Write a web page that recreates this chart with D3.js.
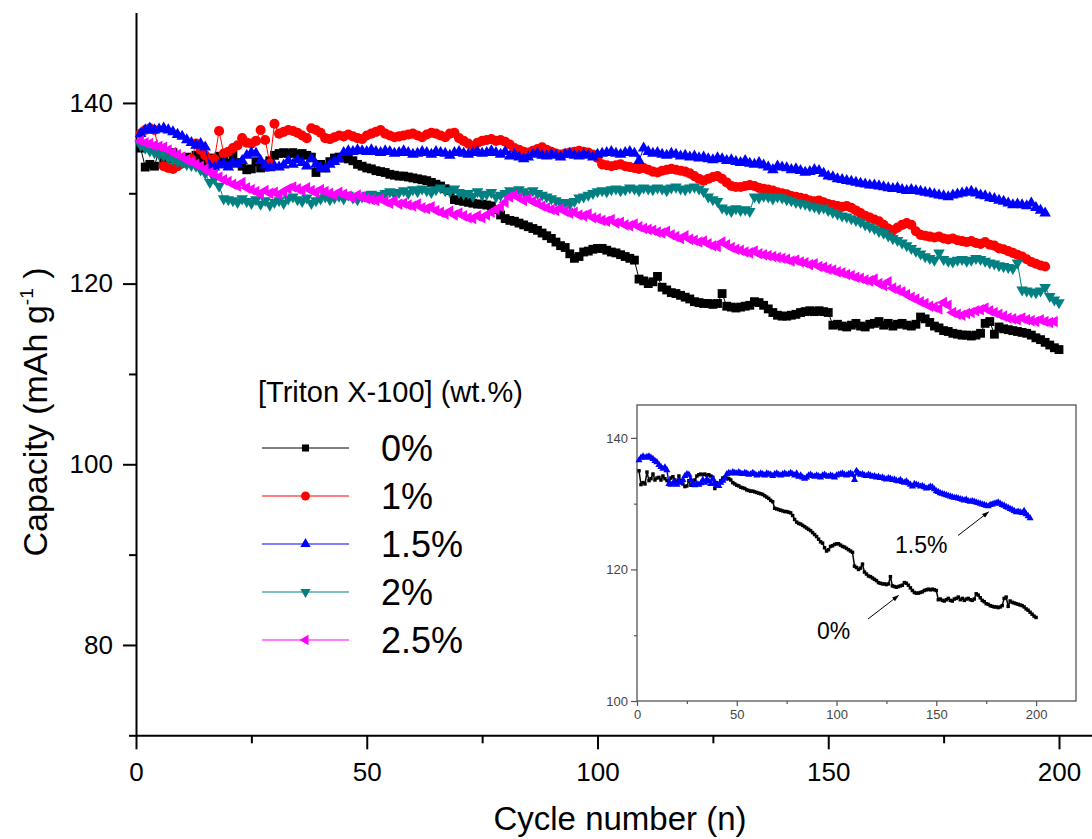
<!DOCTYPE html>
<html><head><meta charset="utf-8">
<script src="https://cdn.jsdelivr.net/npm/d3@7"></script>
<style>
html,body{margin:0;padding:0;background:#fff;}
svg{display:block;font-family:"Liberation Sans",Arial,sans-serif;}
</style></head><body>
<svg id="c" width="1092" height="839"></svg>
<script>
// ---- Data (capacity in mAh g-1, one value per cycle starting at cycle 1) ----
const cap0 = [
135.0,132.9,133.2,133.0,134.8,133.5,133.8,134.5,133.6,133.9,
134.0,133.6,134.2,133.8,133.5,133.2,133.9,134.1,133.6,133.3,
134.2,133.4,133.0,132.6,132.7,133.5,132.8,132.9,133.6,134.2,
134.4,134.5,134.4,134.5,134.3,134.4,134.2,134.0,132.3,133.2,
132.8,133.5,133.9,134.0,133.9,133.8,133.6,133.2,133.0,132.8,
132.7,132.5,132.4,132.3,132.1,132.0,131.9,131.9,131.8,131.7,
131.6,131.5,131.4,131.2,131.0,130.8,130.5,130.3,129.3,129.2,
129.1,129.0,128.9,128.8,128.8,128.7,128.6,128.2,127.6,127.2,
127.0,126.9,126.7,126.5,126.3,126.1,125.9,125.6,125.3,125.0,
124.6,124.2,124.0,123.3,122.8,123.0,123.5,123.6,123.8,123.9,
123.9,123.7,123.5,123.4,123.2,123.0,122.8,122.6,120.5,120.3,
120.0,120.2,120.8,119.6,119.3,119.0,118.9,118.7,118.5,118.3,
118.0,117.9,117.8,117.8,117.7,117.8,118.9,117.5,117.4,117.3,
117.4,117.5,117.6,118.0,117.9,117.6,117.2,116.8,116.5,116.4,
116.4,116.5,116.6,116.8,116.9,117.0,116.9,117.0,116.9,116.8,
115.4,115.5,115.3,115.2,115.4,115.6,115.3,115.2,115.5,115.6,
115.8,115.4,115.6,115.3,115.5,115.6,115.4,115.3,115.5,116.3,
116.1,115.7,115.3,115.1,114.8,114.7,114.5,114.4,114.3,114.3,
114.2,114.3,114.5,115.6,115.8,114.4,115.2,115.0,114.9,114.8,
114.7,114.6,114.5,114.3,114.0,113.8,113.5,113.2,112.9,112.7];

const cap1 = [
136.6,137.0,137.2,137.0,134.5,133.0,132.8,132.7,133.0,133.3,
133.5,133.8,135.5,134.8,134.2,133.7,133.8,136.9,134.4,134.6,
135.0,135.3,136.1,135.6,135.5,135.8,137.0,135.9,133.3,137.7,
136.6,136.8,137.0,136.9,136.7,136.4,136.1,137.2,137.0,136.7,
136.1,136.0,136.2,136.4,136.3,136.5,136.3,136.1,136.0,136.4,
136.6,136.8,137.0,136.6,136.4,136.2,136.3,136.4,136.5,136.6,
136.4,136.2,136.5,136.7,136.6,136.4,136.2,136.6,136.7,136.1,
135.8,135.5,135.2,135.6,135.8,135.9,136.0,135.8,135.9,135.7,
135.4,135.0,134.8,134.6,134.5,134.7,134.9,135.1,134.8,134.6,
134.4,134.3,134.4,134.5,134.6,134.7,134.6,134.5,134.3,133.9,
133.2,133.1,133.0,133.1,133.2,133.0,132.9,132.8,132.7,132.8,
132.6,132.4,132.3,132.5,132.6,132.7,132.6,132.5,132.4,132.2,
131.9,131.6,131.4,131.6,131.8,131.9,131.6,131.2,130.8,130.7,
130.7,130.8,130.9,130.8,130.6,130.5,130.4,130.3,130.1,130.0,
129.9,129.7,129.6,129.5,129.4,129.2,129.1,129.2,129.0,128.8,
128.7,128.6,128.5,128.6,128.4,128.1,127.8,127.5,127.3,127.1,
126.9,126.5,126.1,125.9,126.2,126.5,126.7,126.5,125.8,125.4,
125.3,125.2,125.1,125.2,125.0,124.9,125.0,124.8,124.7,124.6,
124.7,124.5,124.4,124.6,124.3,124.2,123.9,123.8,123.6,123.4,
123.2,123.0,122.7,122.4,122.2,122.0,121.9];

const cap15 = [
136.6,137.0,137.2,137.0,137.1,137.2,137.0,136.8,136.5,136.3,
135.9,135.6,135.3,135.5,135.1,133.0,132.9,133.1,133.3,132.9,
133.4,133.2,133.6,134.2,134.5,134.4,133.6,133.1,132.8,133.0,
132.9,133.1,133.6,133.2,133.7,133.4,133.0,133.8,133.2,132.8,
132.7,133.2,133.5,133.8,134.5,134.7,134.6,134.8,134.7,134.6,
134.8,134.6,134.5,134.7,134.6,134.4,134.5,134.7,134.5,134.3,
134.4,134.6,134.5,134.3,134.6,134.5,134.4,134.2,134.5,134.6,
134.4,134.3,134.5,134.6,134.4,134.5,134.7,134.5,134.3,134.6,
134.1,134.3,134.0,133.8,134.0,134.3,134.4,134.2,134.1,134.3,
134.2,134.0,134.3,134.4,134.2,134.1,134.3,134.2,134.0,134.3,
134.4,134.5,134.6,134.4,134.3,134.5,134.6,134.4,133.6,135.0,
134.6,134.4,134.5,134.3,134.2,134.4,134.3,134.1,134.2,134.0,
134.1,133.9,134.0,133.8,133.7,133.9,133.8,133.6,133.7,133.5,
133.4,133.6,133.3,133.2,133.4,133.1,132.9,132.6,133.0,132.9,
132.8,132.6,132.7,132.5,132.3,132.4,132.6,132.5,132.2,131.9,
131.8,131.6,131.5,131.4,131.3,131.2,131.1,131.0,130.9,130.9,
130.8,130.7,130.6,130.5,130.6,130.4,130.3,130.4,130.3,130.2,
130.1,130.0,129.9,129.8,129.7,129.6,129.8,129.9,130.0,130.1,
130.2,130.0,129.8,129.7,129.5,129.4,129.2,129.1,128.9,128.7,
128.8,128.7,128.6,128.9,128.4,128.1,127.8];

const cap2 = [
135.3,135.0,134.7,134.5,134.3,134.2,133.9,133.7,133.5,133.4,
133.2,133.1,133.0,132.6,132.2,131.2,131.6,130.8,129.4,129.3,
129.2,129.0,129.4,129.1,128.9,129.3,128.8,129.2,128.7,129.0,
129.2,128.9,129.4,129.6,129.3,129.1,129.5,128.9,129.2,129.4,
129.6,129.3,129.5,129.7,129.4,129.8,129.5,129.3,129.6,129.8,
129.9,129.6,129.8,130.0,130.2,129.9,130.1,130.3,130.0,130.4,
130.2,130.5,130.3,130.1,130.4,130.6,130.3,130.2,130.5,130.1,
129.9,130.0,129.7,130.2,129.8,129.9,130.1,129.6,129.8,130.0,
130.3,130.1,130.4,130.2,129.9,130.3,130.0,129.8,129.6,129.4,
129.2,128.9,129.0,128.8,129.1,129.5,129.6,129.8,130.0,130.2,
130.3,130.2,130.4,130.5,130.3,130.4,130.6,130.5,130.3,130.6,
130.5,130.4,130.6,130.5,130.3,130.6,130.7,130.5,130.4,130.6,
130.7,130.5,130.2,129.6,129.3,129.1,128.4,128.2,128.0,128.3,
128.1,128.2,128.0,129.6,129.5,129.7,129.6,129.4,129.6,129.5,
129.3,129.2,129.0,128.9,128.8,128.6,128.5,128.3,128.4,128.1,
127.9,127.7,127.5,127.4,127.2,127.0,126.8,126.5,126.3,126.1,
125.8,125.6,125.3,125.0,124.8,124.5,124.2,123.9,123.6,123.3,
123.0,122.8,122.6,123.4,122.7,122.5,122.4,122.6,122.7,122.5,
122.6,122.8,122.7,122.5,122.3,122.2,122.0,121.9,121.8,121.7,
122.3,119.3,119.2,119.1,119.0,119.2,119.6,118.6,118.2,117.9];

const cap25 = [
135.8,135.6,135.5,135.3,135.2,135.1,134.8,134.5,134.3,134.0,
133.7,133.5,133.2,133.0,132.7,132.3,132.1,131.8,131.5,131.3,
131.0,130.8,131.2,130.6,130.4,130.2,129.9,130.3,130.0,130.1,
129.9,130.2,130.5,130.7,130.5,130.3,130.6,130.3,130.1,130.4,
130.2,130.0,129.8,130.1,129.9,129.7,129.5,129.8,129.6,129.4,
129.3,129.2,129.4,129.1,128.9,129.2,128.8,128.9,128.7,128.6,
128.8,128.4,128.3,128.5,128.1,127.9,127.7,128.0,127.6,127.8,
127.5,127.3,127.2,127.5,127.3,127.6,127.9,128.2,128.5,129.0,
129.6,129.8,129.5,129.2,129.4,129.1,128.9,128.6,128.4,128.2,
128.1,128.3,128.0,127.8,127.9,127.6,127.5,127.7,127.3,127.2,
127.0,126.9,127.1,126.7,126.8,126.5,126.4,126.6,126.3,126.1,
126.0,125.9,125.7,125.6,125.8,125.4,125.2,125.0,125.3,124.9,
124.8,124.6,124.7,124.4,124.2,124.1,124.6,124.3,124.0,123.8,
123.7,123.5,123.4,123.6,123.3,123.2,123.1,123.0,122.9,122.8,
122.7,122.5,122.6,122.4,122.3,122.1,122.2,121.9,121.8,121.6,
121.5,121.3,121.2,121.0,120.9,120.7,120.6,120.4,120.3,120.5,
120.0,119.8,120.2,119.5,119.3,119.1,118.8,118.5,118.3,118.0,
117.8,117.5,117.4,117.2,117.9,117.6,116.8,116.6,116.5,116.7,
116.8,117.0,117.1,117.3,117.0,116.8,116.6,116.4,116.2,116.1,
116.0,116.2,116.0,115.9,115.8,116.0,115.8,115.7,115.8];

const seriesNames  = ["0%", "1%", "1.5%", "2%", "2.5%"];
const seriesColors = ["#000000", "#ff0000", "#0000ff", "#008080", "#ff00ff"];
const xTickValues  = [0, 50, 100, 150, 200];
const xMinorValues = [25, 75, 125, 175];
const yTickValues  = [80, 100, 120, 140];
const yMinorValues = [70, 90, 110, 130];
const insetXTicks  = [0, 50, 100, 150, 200];
const insetXMinor  = [25, 75, 125, 175];
const insetYTicks  = [100, 120, 140];
const insetYMinor  = [110, 130];
const legendTitle  = "[Triton X-100] (wt.%)";
const xTitle       = "Cycle number (n)";
const insetLabels  = ["1.5%", "0%"];

const allSeries = [cap0, cap1, cap15, cap2, cap25];

// ---- Chart ----
const svg = d3.select("#c");
const x = d3.scaleLinear().domain([0, 210]).range([136, 136 + 210 * 4.615]);
const y = d3.scaleLinear().domain([70, 150]).range([735.3, 12.6]);

const symTypes = [d3.symbolSquare, d3.symbolCircle, d3.symbolTriangle, d3.symbolTriangle, d3.symbolTriangle];
const symRot   = [0, 0, 0, 180, -90];
const symSize  = [78, 80, 58, 58, 58];

function styleAxis(g, w) {
  g.selectAll("path.domain").attr("stroke", "#000").attr("stroke-width", w);
  g.selectAll(".tick line").attr("stroke", "#000").attr("stroke-width", w);
}
const gxMinor = svg.append("g").attr("transform", `translate(0,${y(70)})`)
  .call(d3.axisBottom(x).tickValues(xMinorValues).tickSize(8).tickSizeOuter(0).tickFormat(""));
gxMinor.select("path.domain").remove();
styleAxis(gxMinor, 2);
const gx = svg.append("g").attr("transform", `translate(0,${y(70)})`)
  .call(d3.axisBottom(x).tickValues(xTickValues).tickSize(14).tickPadding(13).tickSizeOuter(0));
styleAxis(gx, 2);
gx.selectAll("text").attr("font-size", 26).attr("fill", "#000").attr("font-family", "Liberation Sans, Arial, sans-serif");

const gyMinor = svg.append("g").attr("transform", `translate(${x(0)},0)`)
  .call(d3.axisLeft(y).tickValues(yMinorValues).tickSize(7).tickSizeOuter(0).tickFormat(""));
gyMinor.select("path.domain").remove();
styleAxis(gyMinor, 2);
const gy = svg.append("g").attr("transform", `translate(${x(0)},0)`)
  .call(d3.axisLeft(y).tickValues(yTickValues).tickSize(13).tickPadding(10).tickSizeOuter(0));
styleAxis(gy, 2);
gy.selectAll("text").attr("font-size", 26).attr("fill", "#000").attr("font-family", "Liberation Sans, Arial, sans-serif");

// axis titles
svg.append("text").attr("x", 620).attr("y", 830).attr("text-anchor", "middle")
  .attr("font-size", 33).text(xTitle);
const yt = svg.append("text").attr("transform", "translate(47,412) rotate(-90)")
  .attr("text-anchor", "middle").attr("font-size", 34);
yt.append("tspan").text("Capacity (mAh g");
yt.append("tspan").attr("font-size", 19).attr("dy", -14).text("-1");
yt.append("tspan").attr("dy", 14).text(" )");

// series
const line = d3.line().x((d, i) => x(i + 1)).y(d => y(d));
allSeries.forEach((vals, k) => {
  const g = svg.append("g");
  g.append("path").attr("d", line(vals)).attr("fill", "none")
    .attr("stroke", seriesColors[k]).attr("stroke-width", 1);
  const sym = d3.symbol().type(symTypes[k]).size(symSize[k]);
  g.selectAll("path.m").data(vals).join("path").attr("class", "m")
    .attr("d", sym)
    .attr("transform", (d, i) => `translate(${x(i + 1)},${y(d)}) rotate(${symRot[k]})`)
    .attr("fill", seriesColors[k]);
});

// legend
svg.append("text").attr("x", 258).attr("y", 402).attr("font-size", 29).text(legendTitle);
const legRows = [448, 496, 544, 592, 640];
const legSize = [50, 62, 46, 46, 46];
seriesNames.forEach((nm, k) => {
  const g = svg.append("g").attr("transform", `translate(0,${legRows[k]})`);
  g.append("line").attr("x1", 262).attr("x2", 349).attr("y1", 0).attr("y2", 0)
    .attr("stroke", seriesColors[k]).attr("stroke-width", 1);
  g.append("path").attr("d", d3.symbol().type(symTypes[k]).size(legSize[k]))
    .attr("transform", `translate(305.5,0) rotate(${symRot[k]})`).attr("fill", seriesColors[k]);
  g.append("text").attr("x", 381).attr("y", 13).attr("font-size", 36).text(nm);
});

// ---- Inset ----
const ix = d3.scaleLinear().domain([0, 220]).range([637, 1076]);
const iy = d3.scaleLinear().domain([100, 145]).range([701, 405]);
const inset = svg.append("g");
inset.append("rect").attr("x", 637).attr("y", 405).attr("width", 1076 - 637).attr("height", 701 - 405)
  .attr("fill", "#fff").attr("stroke", "#555").attr("stroke-width", 1.3);
function styleInsetAxis(g) {
  g.selectAll("path.domain").remove();
  g.selectAll(".tick line").attr("stroke", "#555").attr("stroke-width", 1.2);
  g.selectAll("text").attr("font-size", 13).attr("fill", "#444").attr("font-family", "Liberation Sans, Arial, sans-serif");
}
styleInsetAxis(inset.append("g").attr("transform", "translate(0,701)")
  .call(d3.axisBottom(ix).tickValues(insetXMinor).tickSize(3).tickFormat("")));
styleInsetAxis(inset.append("g").attr("transform", "translate(0,701)")
  .call(d3.axisBottom(ix).tickValues(insetXTicks).tickSize(5).tickPadding(4)));
styleInsetAxis(inset.append("g").attr("transform", "translate(637,0)")
  .call(d3.axisLeft(iy).tickValues(insetYMinor).tickSize(3).tickFormat("")));
styleInsetAxis(inset.append("g").attr("transform", "translate(637,0)")
  .call(d3.axisLeft(iy).tickValues(insetYTicks).tickSize(6).tickPadding(3)));

const iline = d3.line().x((d, i) => ix(i + 1)).y(d => iy(d));
[[cap0, 0, d3.symbolSquare, 12], [cap15, 2, d3.symbolTriangle, 22]].forEach(([vals, k, st, sz]) => {
  inset.append("path").attr("d", iline(vals)).attr("fill", "none")
    .attr("stroke", seriesColors[k]).attr("stroke-width", 1.5);
  inset.selectAll(null).data(vals).join("path")
    .attr("d", d3.symbol().type(st).size(sz))
    .attr("transform", (d, i) => `translate(${ix(i + 1)},${iy(d)})`)
    .attr("fill", seriesColors[k]);
});

// annotations
const defs = svg.append("defs");
defs.append("marker").attr("id", "ah").attr("viewBox", "0 0 10 10").attr("refX", 9).attr("refY", 5)
  .attr("markerWidth", 7).attr("markerHeight", 7).attr("orient", "auto")
  .append("path").attr("d", "M0,1.5 L10,5 L0,8.5 Z").attr("fill", "#000");
inset.append("line").attr("x1", 958).attr("y1", 535.5).attr("x2", 988.5).attr("y2", 512)
  .attr("stroke", "#000").attr("stroke-width", 1).attr("marker-end", "url(#ah)");
inset.append("line").attr("x1", 868).attr("y1", 619).attr("x2", 898.5).attr("y2", 595.5)
  .attr("stroke", "#000").attr("stroke-width", 1).attr("marker-end", "url(#ah)");
inset.append("text").attr("x", 895).attr("y", 553).attr("font-size", 23).text(insetLabels[0]);
inset.append("text").attr("x", 817).attr("y", 639).attr("font-size", 23).text(insetLabels[1]);
</script>
</body></html>
